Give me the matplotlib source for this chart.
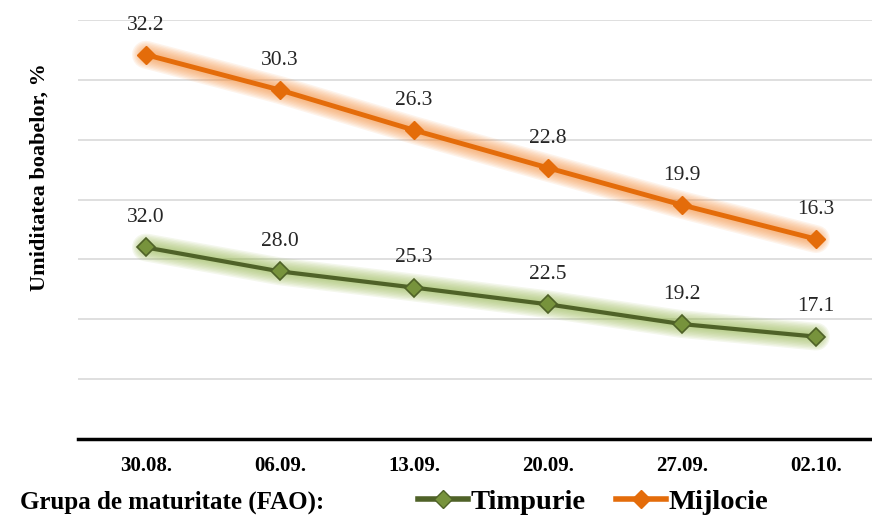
import matplotlib
matplotlib.use("Agg")
import matplotlib.pyplot as plt
from matplotlib.lines import Line2D
import numpy as np

dates = ["30.08.", "06.09.", "13.09.", "20.09.", "27.09.", "02.10."]
timpurie = [32.0, 28.0, 25.3, 22.5, 19.2, 17.1]
mijlocie = [32.2, 30.3, 26.3, 22.8, 19.9, 16.3]

plt.rcParams['font.family'] = ['Liberation Serif', 'DejaVu Serif']

W, H = 872, 520
fig = plt.figure(figsize=(W/100, H/100), dpi=100)
left, right, bottom, top = 78, 872, 439, 20
ax = fig.add_axes([left/W, 1-bottom/H, (right-left)/W, (bottom-top)/H])

x = np.arange(len(dates))
t = np.array(timpurie)
m_stack = t + np.array(mijlocie)

ax.set_ylim(0, 70)
ax.set_xlim(-0.507, 5.418)
for yv in range(10, 71, 10):
    ax.axhline(yv, color='#d9d9d9', lw=1.2, zorder=0)

def glow(xs, ys, color, n=10, maxw=20):
    for i in range(n):
        w = maxw * (1 - i / n)
        ax.plot(xs, ys, color=color, lw=w, alpha=0.11, solid_capstyle='round', zorder=1)

glow(x, t, '#9BBB59')
glow(x, m_stack, '#F79646')

ax.plot(x, t, color='#4F6228', lw=3, marker='D', ms=9, mfc='#77933C', mec='#4F6228', mew=1.2, zorder=3)
ax.plot(x, m_stack, color='#E46C0A', lw=3.5, marker='D', ms=9, mfc='#E46C0A', mec='#E46C0A', zorder=3)

for xi, yi, v in zip(x, t, timpurie):
    ax.annotate(f"{v:.1f}", (xi, yi), xytext=(0, 21.5), textcoords='offset points',
                ha='center', va='center', fontsize=15.5, color='#262626')
for xi, yi, v in zip(x, m_stack, mijlocie):
    ax.annotate(f"{v:.1f}", (xi, yi), xytext=(0, 21), textcoords='offset points',
                ha='center', va='center', fontsize=15.5, color='#262626')

for s in ['top', 'right', 'left']:
    ax.spines[s].set_visible(False)
ax.spines['bottom'].set_linewidth(2.5)
ax.spines['bottom'].set_color('black')
ax.set_yticks([])
ax.set_xticks(x)
ax.set_xticklabels(dates, fontsize=15, fontweight='bold')
ax.tick_params(axis='x', length=0, pad=12)

fig.text(40/W, 1-177/H, "Umiditatea boabelor, %", rotation=90, ha='center', va='center',
         fontsize=16, fontweight='bold')

fig.text(20/W, 1-502/H, "Grupa de maturitate (FAO):", ha='left', va='center',
         fontsize=18, fontweight='bold')

handles = [
    Line2D([], [], color='#4F6228', lw=4, marker='D', ms=9, mfc='#77933C', mec='#4F6228'),
    Line2D([], [], color='#E46C0A', lw=4, marker='D', ms=9, mfc='#E46C0A', mec='#E46C0A'),
]
fig.legend(handles, ["Timpurie", "Mijlocie"], loc='center left', bbox_to_anchor=(418/W, 1-502/H),
           ncol=2, frameon=False, handlelength=1.76, handletextpad=0.1, columnspacing=1.05,
           prop={'family': 'Liberation Serif', 'weight': 'bold', 'size': 20.5}, borderaxespad=0,
           borderpad=0)

fig.savefig("out.png", dpi=100)
